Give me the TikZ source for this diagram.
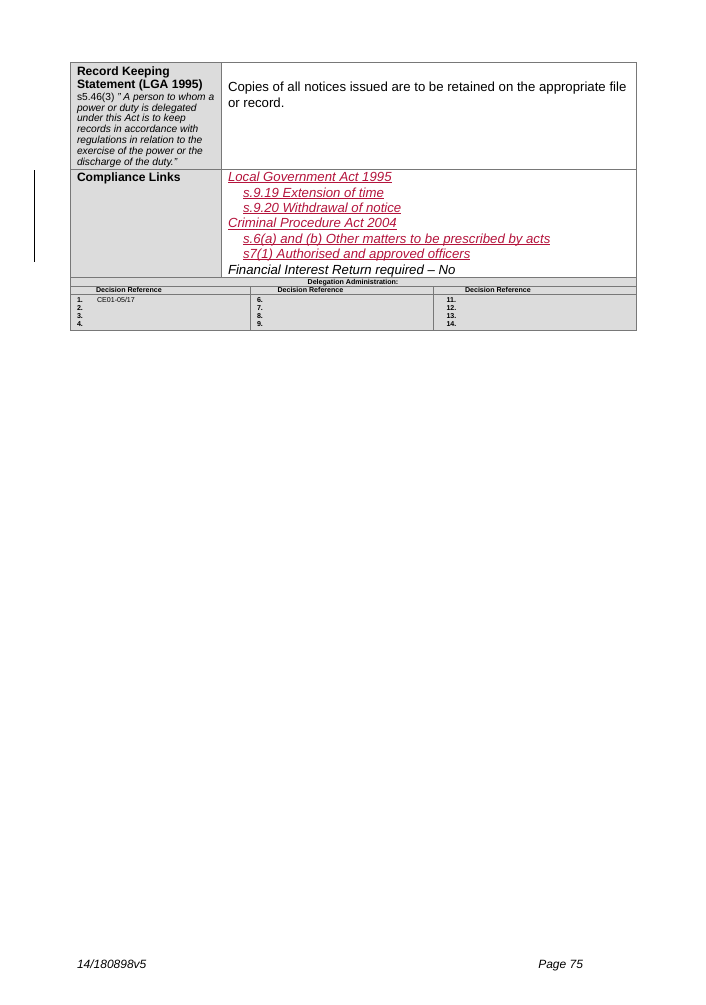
\documentclass[tikz,border=0pt]{standalone}
\usepackage{fontspec}
\setmainfont{Liberation Sans}
\definecolor{cellgray}{RGB}{220,220,220}
\definecolor{gridgray}{RGB}{120,120,120}
\definecolor{linkred}{RGB}{180,20,60}
\newcommand\myul[1]{\setbox0\hbox{#1}\rlap{\rule[-1.7pt]{\wd0}{0.9pt}}\box0}
\begin{document}
\begin{tikzpicture}[x=1pt,y=-1pt,
  grid/.style={draw=gridgray,line width=0.9pt},
  txt/.style={anchor=base west,inner sep=0pt,outer sep=0pt},
  body/.style={txt,font=\fontsize{13.2}{15.4}\selectfont},
  linktxt/.style={txt,font=\fontsize{13.2}{15.4}\selectfont\itshape,text=linkred},
  headtxt/.style={txt,font=\fontsize{12.1}{13.5}\selectfont\bfseries},
  smalltxt/.style={txt,font=\fontsize{10.2}{10.8}\selectfont\itshape},
  tinytxt/.style={txt,font=\fontsize{7.1}{8}\selectfont\bfseries},
  tinyreg/.style={txt,font=\fontsize{7.1}{8}\selectfont},
  foottxt/.style={txt,font=\fontsize{12}{14}\selectfont\itshape}]
\useasboundingbox (0,0) rectangle (706,1005);
\fill[white] (0,0) rectangle (706,1005);
% upper table
\fill[cellgray] (70,62) rectangle (221,277);
\draw[grid] (70,62) rectangle (636,277);
\draw[grid] (221,62) -- (221,277);
\draw[grid] (70,169) -- (636,169);
% lower table
\fill[cellgray] (70,277) rectangle (636,330.5);
\draw[grid] (70,277) rectangle (636,330.5);
\draw[grid] (70,286) -- (636,286);
\draw[grid] (70,294.5) -- (636,294.5);
\draw[grid] (250,286) -- (250,330.5);
\draw[grid] (433,286) -- (433,330.5);
% change bar
\draw[black,line width=1pt] (34,170) -- (34,262);
% left column texts
\node[headtxt] (rk1) at (77,75) {Record Keeping};
\node[headtxt] (rk2) at (77,88.5) {Statement (LGA 1995)};
\node[smalltxt] (s1) at (77,100.3) {\upshape s5.46(3) \itshape" A person to whom a};
\node[smalltxt] (s2) at (77,111.1) {power or duty is delegated};
\node[smalltxt] (s3) at (77,121.9) {under this Act is to keep};
\node[smalltxt] (s4) at (77,132.7) {records in accordance with};
\node[smalltxt] (s5) at (77,143.5) {regulations in relation to the};
\node[smalltxt] (s6) at (77,154.3) {exercise of the power or the};
\node[smalltxt] (s7) at (77,165.1) {discharge of the duty."};
\node[headtxt] (cl) at (77,181.5) {Compliance Links};
% right column texts
\node[body] (c1) at (228,91.5) {Copies of all notices issued are to be retained on the appropriate file};
\node[body] (c2) at (228,107) {or record.};
\node[linktxt] (l1) at (228,181.5) {\myul{Local Government Act 1995}};
\node[linktxt] (l2) at (243,197) {\myul{s.9.19 Extension of time}};
\node[linktxt] (l3) at (243,212.5) {\myul{s.9.20 Withdrawal of notice}};
\node[linktxt] (l4) at (228,227.8) {\myul{Criminal Procedure Act 2004}};
\node[linktxt] (l5) at (243,243.3) {\myul{s.6(a) and (b) Other matters to be prescribed by acts}};
\node[linktxt] (l6) at (243,258.6) {\myul{s7(1) Authorised and approved officers}};
\node[body,font=\fontsize{13.2}{15.4}\selectfont\itshape] (fir) at (228,274) {Financial Interest Return required – No};
% lower table texts
\node[tinytxt,anchor=base] (da) at (353,284.2) {Delegation Administration:};
\node[tinytxt] (h1) at (96,292.8) {Decision Reference};
\node[tinytxt] (h2) at (277.5,292.8) {Decision Reference};
\node[tinytxt] (h3) at (465,292.8) {Decision Reference};
\node[tinytxt] (n1) at (77,302.8) {1.};
\node[tinyreg] (ce) at (97,302.8) {CE01-05/17};
\node[tinytxt] (n2) at (77,310.6) {2.};
\node[tinytxt] (n3) at (77,318.4) {3.};
\node[tinytxt] (n4) at (77,326.2) {4.};
\node[tinytxt] (n6) at (257,302.8) {6.};
\node[tinytxt] (n7) at (257,310.6) {7.};
\node[tinytxt] (n8) at (257,318.4) {8.};
\node[tinytxt] (n9) at (257,326.2) {9.};
\node[tinytxt] (n11) at (446.5,302.8) {11.};
\node[tinytxt] (n12) at (446.5,310.6) {12.};
\node[tinytxt] (n13) at (446.5,318.4) {13.};
\node[tinytxt] (n14) at (446.5,326.2) {14.};
% footer
\node[foottxt] (fl) at (77,968) {14/180898v5};
\node[foottxt,anchor=base east] (fr) at (583,968) {Page 75};
\end{tikzpicture}
\end{document}
